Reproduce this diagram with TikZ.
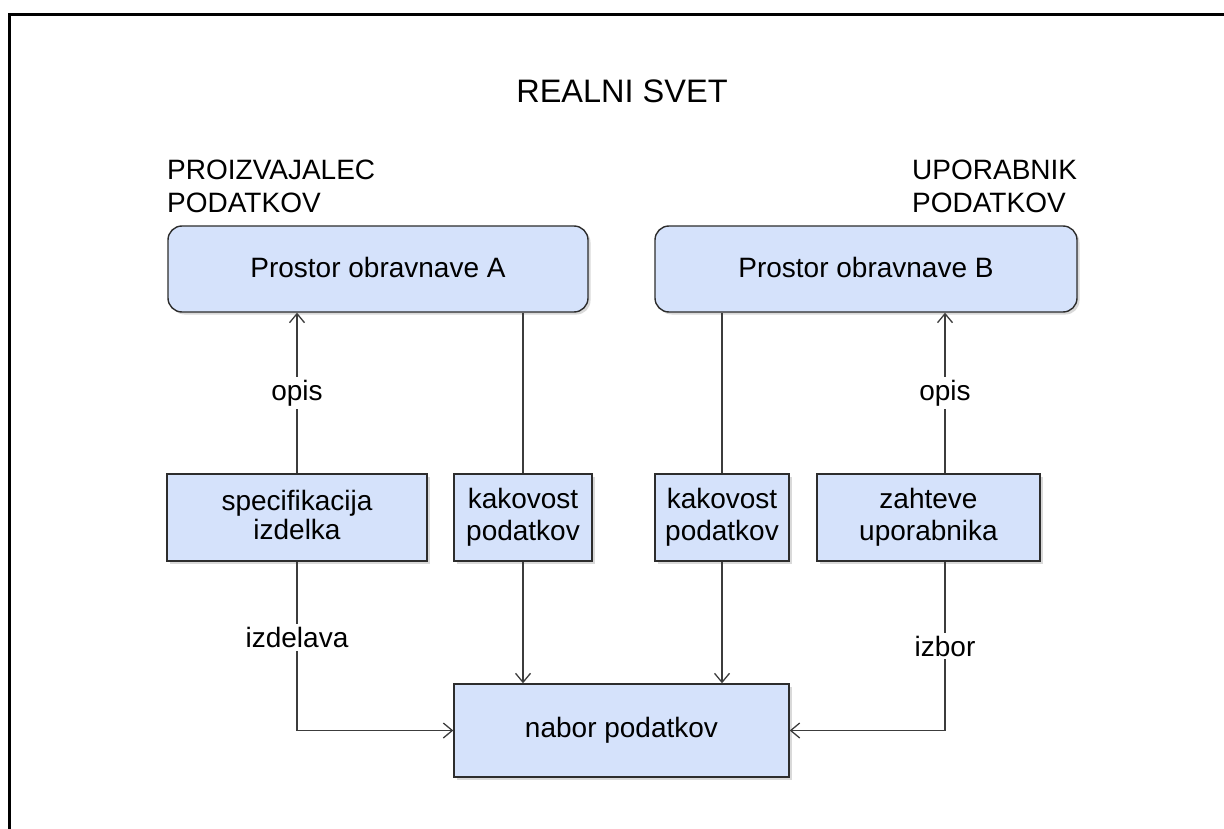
\documentclass[tikz,border=0pt]{standalone}
\usepackage{fontspec}
\setmainfont{Liberation Sans}
\usetikzlibrary{arrows.meta,shadows,calc}
\definecolor{boxfill}{RGB}{213,226,251}
\definecolor{boxline}{RGB}{45,45,45}
\definecolor{conn}{RGB}{60,60,60}
\tikzset{
  boxbase/.style={draw=boxline, line width=1.4pt, fill=boxfill, align=center,
    font=\fontsize{28}{32}\selectfont, inner sep=0pt,
    drop shadow={opacity=0.3, shadow xshift=2.5pt, shadow yshift=-2.5pt}},
  roundbox/.style={boxbase, rounded corners=14pt},
  sqbox/.style={boxbase},
  conline/.style={draw=conn, line width=1.3pt},
  arr/.style={conline, -{Straight Barb[length=9pt,width=15pt,line width=1.3pt]}},
  lbl/.style={fill=white, inner sep=3pt, font=\fontsize{28}{32}\selectfont},
  head/.style={align=left, anchor=north west, inner sep=0pt, font=\fontsize{28}{33}\selectfont}
}
\begin{document}
\begin{tikzpicture}[x=1pt,y=-1pt]
\useasboundingbox (0,0) rectangle (1224,829);
% frame
\draw[line width=2.5pt] (9.3,832) -- (9.3,14.3) -- (1228,14.3);
% title and headers
\node[anchor=base, inner sep=0pt, font=\fontsize{32.5}{36}\selectfont] (title) at (622,103) {REALNI SVET};
\node[head] (prod) at (167,160) {PROIZVAJALEC\\PODATKOV};
\node[head] (upor) at (912,160) {UPORABNIK\\PODATKOV};
% boxes
\node[roundbox, minimum width=420pt, minimum height=86pt] (A) at (378,269) {\raisebox{4pt}{Prostor obravnave A}};
\node[roundbox, minimum width=422pt, minimum height=86pt] (B) at (866,269) {\raisebox{4pt}{Prostor obravnave B}};
\node[sqbox, minimum width=260pt, minimum height=87pt] (spec) at (297,517.5) {\raisebox{5pt}{\shortstack{specifikacija\\izdelka}}};
\node[sqbox, minimum width=138pt, minimum height=87pt] (kak1) at (523,517.5) {kakovost\\podatkov};
\node[sqbox, minimum width=134pt, minimum height=87pt] (kak2) at (722,517.5) {kakovost\\podatkov};
\node[sqbox, minimum width=223pt, minimum height=87pt] (zah) at (928.5,517.5) {zahteve\\uporabnika};
\node[sqbox, minimum width=335pt, minimum height=93pt] (nabor) at (621.5,730.5) {nabor podatkov};
% connectors
\draw[arr] (spec.north) -- node[lbl] (opisL) {opis} (spec.north |- A.south);
\coordinate (zr) at ([xshift=16.5pt]zah.north);
\coordinate (zrs) at ([xshift=16.5pt]zah.south);
\draw[arr] (zr) -- node[lbl] (opisR) {opis} (zr |- B.south);
\draw[conline] (kak1.north) -- (kak1.north |- A.south);
\draw[conline] (kak2.north) -- (kak2.north |- B.south);
\draw[arr] (kak1.south) -- (kak1.south |- nabor.north);
\draw[arr] (kak2.south) -- (kak2.south |- nabor.north);
\draw[arr] (spec.south) |- node[lbl, pos=0.225] (izd) {izdelava} (nabor.west);
\draw[arr] (zrs) |- node[lbl, pos=0.25] (izb) {izbor} (nabor.east);
\end{tikzpicture}
\end{document}
